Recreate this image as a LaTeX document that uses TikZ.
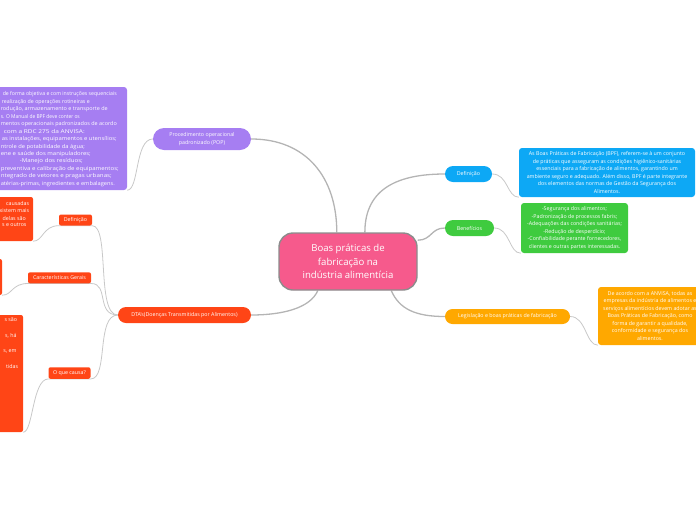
\documentclass[tikz,border=0pt]{standalone}
\usepackage{fontspec}
\usepackage{graphicx}
\setmainfont{Open Sans}
\usetikzlibrary{calc}
\definecolor{cpink}{HTML}{F65A8C}
\definecolor{cpurple}{HTML}{A67EF2}
\definecolor{cblue}{HTML}{0DA8F5}
\definecolor{cgreen}{HTML}{3FCB3F}
\definecolor{corange}{HTML}{FFA800}
\definecolor{cred}{HTML}{FF4516}
\definecolor{cline}{HTML}{C8C8C8}
\definecolor{cmain}{HTML}{B4B4B4}
\definecolor{cborder}{HTML}{8C8C8C}
\newcommand\fitl[2]{\resizebox{#1pt}{\height}{#2}}
\pgfdeclarelayer{bg}
\pgfsetlayers{bg,main}
\begin{document}
\begin{tikzpicture}[x=1pt,y=-1pt,
  tiny/.style={font=\fontsize{5.3}{7.5}\selectfont, text=white, inner sep=0pt},
  pill/.style={tiny, align=center},
  box/.style={tiny, align=center, rounded corners=3pt},
  boxline/.style={tiny, anchor=east},
  mainline/.style={draw=cmain, line width=1.3pt},
  thinline/.style={draw=cline, line width=0.8pt}]
\useasboundingbox (0,0) rectangle (696,520);
\clip (0,0) rectangle (696,520);

% central
\node[fill=cpink, draw=cborder, line width=1.4pt, rounded corners=14pt, minimum width=138pt, minimum height=57pt,
  text=white, align=center, inner sep=0pt, font=\fontsize{9.6}{13.5}\selectfont] (c) at (348,261.5)
  {Boas práticas de\\fabricação na\\indústria alimentícia};

% POP branch
\node[pill, fill=cpurple, rounded corners=11pt, minimum width=98pt, minimum height=22pt] (pop) at (202,139)
  {Procedimento operacional\\padronizado (POP)};
\node[box, fill=cpurple, minimum width=167pt, minimum height=103pt] (popbox) at (43.5,138.5) {};
\node[boxline] (p1) at (117,94) {\fitl{114}{de forma objetiva e com instruções sequenciais}};
\node[boxline] (p2) at (90,101.7) {\fitl{88}{realização de operações rotineiras e}};
\node[boxline] (p3) at (108,109.3) {\fitl{107}{rodução, armazenamento e transporte de}};
\node[boxline] (p4) at (80,116.7) {\fitl{79}{s. O Manual de BPF deve conter os}};
\node[boxline] (p5) at (117,124) {\fitl{116}{mentos operacionais padronizados de acordo}};
\node[boxline] (p6) at (85,131.3) {\fitl{81}{com a RDC 275 da ANVISA:}};
\node[boxline] (p7) at (117,139.3) {\fitl{115}{as instalações, equipamentos e utensílios;}};
\node[boxline] (p8) at (85,146.7) {\fitl{84}{ntrole de potabilidade da água;}};
\node[boxline] (p9) at (91,154) {\fitl{90}{ene e saúde dos manipuladores;}};
\node[boxline] (p10) at (83,161) {\fitl{63}{-Manejo dos resíduos;}};
\node[boxline] (p11) at (119,168.7) {\fitl{118}{preventiva e calibração de equipamentos;}};
\node[boxline] (p12) at (112,176) {\fitl{111}{ntegrado de vetores e pragas urbanas;}};
\node[boxline] (p13) at (115,184) {\fitl{114}{atérias-primas, ingredientes e embalagens.}};

% Definicao (blue)
\node[pill, fill=cblue, rounded corners=8pt, minimum width=47pt, minimum height=16pt] (def) at (468.5,174) {Definição};
\node[box, fill=cblue, minimum width=176pt, minimum height=49pt] (defbox) at (607,172.5)
  {As Boas Práticas de Fabricação (BPF), referem-se à um conjunto\\
   de práticas que asseguram as condições higiênico-sanitárias\\
   essenciais para a fabricação de alimentos, garantindo um\\
   ambiente seguro e adequado. Além disso, BPF é parte integrante\\
   dos elementos das normas de Gestão da Segurança dos\\
   Alimentos.};

% Beneficios (green)
\node[pill, fill=cgreen, rounded corners=8pt, minimum width=49pt, minimum height=16pt] (ben) at (469.5,228) {Benefícios};
\node[box, fill=cgreen, minimum width=107pt, minimum height=50pt] (benbox) at (574.5,228)
  {-Segurança dos alimentos;\\
   -Padronização de processos fabris;\\
   -Adequações das condições sanitárias;\\
   -Redução de desperdício;\\
   -Confiabilidade perante fornecedores,\\
   clientes e outras partes interessadas.};

% Legislacao (orange)
\node[pill, fill=corange, rounded corners=7.5pt, minimum width=125pt, minimum height=15pt] (leg) at (507.5,316.5)
  {Legislação e boas práticas de fabricação};
\node[box, fill=corange, minimum width=104pt, minimum height=58pt] (legbox) at (650,316)
  {De acordo com a ANVISA, todas as\\
   empresas da indústria de alimentos e\\
   serviços alimentícios devem adotar as\\
   Boas Práticas de Fabricação, como\\
   forma de garantir a qualidade,\\
   conformidade e segurança dos\\
   alimentos.};

% DTA branch (red)
\node[pill, fill=cred, rounded corners=8pt, minimum width=133pt, minimum height=16pt] (dta) at (184.5,315)
  {DTA's(Doenças Transmitidas por Alimentos)};
\node[pill, fill=cred, rounded corners=2pt, minimum width=33pt, minimum height=11pt] (rdef) at (75.5,220) {Definição};
\node[box, fill=cred, rounded corners=2pt, minimum width=73pt, minimum height=44pt] (rbox1) at (-3.5,219) {};
\node[boxline] (r1a) at (29.3,204) {causadas};
\node[boxline] (r1b) at (29.3,210.7) {xistem mais};
\node[boxline] (r1c) at (26,218.3) {delas são};
\node[boxline] (r1d) at (26.7,225) {s e outros};

\node[pill, fill=cred, rounded corners=2pt, minimum width=63pt, minimum height=11pt] (car) at (59.5,277.8) {Características Gerais};
\node[box, fill=cred, rounded corners=2pt, minimum width=62pt, minimum height=36pt] (rbox2) at (-29,277) {};

\node[pill, fill=cred, rounded corners=2pt, minimum width=42pt, minimum height=11.5pt] (causa) at (69.5,373) {O que causa?};
\node[box, fill=cred, rounded corners=2pt, minimum width=83pt, minimum height=117pt] (rbox3) at (-18.5,373.5) {};
\node[boxline] (r3a) at (17.3,320) {s são};
\node[boxline] (r3b) at (16.7,335.7) {s, há};
\node[boxline] (r3c) at (16.7,351) {s, em};
\node[boxline] (r3d) at (18.3,366.7) {tidas};

% connectors
\begin{pgfonlayer}{bg}
\draw[mainline] (c.111) .. controls +(0,-55) and +(55,0) .. (pop.east);
\draw[mainline] (c.60) .. controls +(0,-45) and +(-45,0) .. (def.west);
\draw[mainline] (c.17) .. controls +(14,0) and +(-14,0) .. (ben.west);
\draw[mainline] (c.326) .. controls +(8,18) and +(-30,0) .. (leg.west);
\draw[mainline] (c.224) .. controls +(-8,18) and +(30,0) .. (dta.east);

\draw[thinline] (pop.west) .. controls +(-18,0) and +(12,0) .. (popbox.south east);
\draw[thinline] (def.east) .. controls +(16,0) and +(-12,0) .. (defbox.south west);
\draw[thinline] (ben.east) .. controls +(16,0) and +(-12,0) .. (benbox.south west);
\draw[thinline] (leg.east) .. controls +(16,0) and +(-12,0) .. (legbox.south west);

\draw[thinline] (dta.west) .. controls +(-22,0) and +(18,0) .. (rdef.south east) -- (rdef.south west)
  .. controls +(-16,0) and +(10,0) .. (rbox1.south east);
\draw[thinline] (dta.west) .. controls +(-22,0) and +(18,0) .. (car.south east) -- (car.south west)
  .. controls +(-16,0) and +(10,0) .. (rbox2.south east);
\draw[thinline] (dta.west) .. controls +(-22,0) and +(18,0) .. (causa.south east) -- (causa.south west)
  .. controls +(-16,0) and +(10,0) .. (rbox3.south east);
\end{pgfonlayer}
\end{tikzpicture}
\end{document}
